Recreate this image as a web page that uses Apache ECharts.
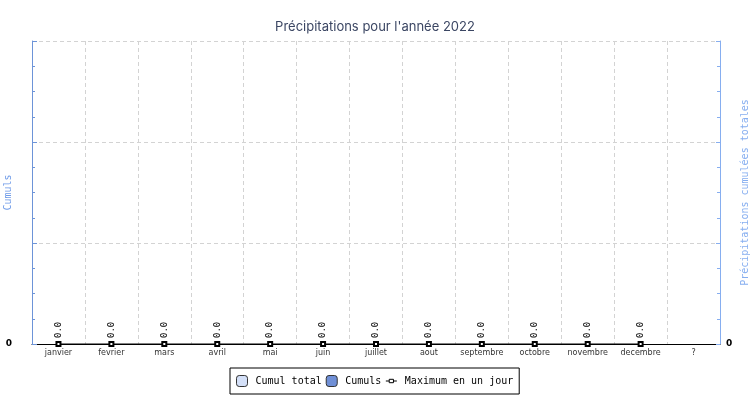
<!DOCTYPE html>
<html>
<head>
<meta charset="utf-8">
<script src="https://cdn.jsdelivr.net/npm/echarts@6/dist/echarts.min.js"></script>
<style>
  body { margin: 0; background: #ffffff; }
  #chart { width: 750px; height: 400px; }
</style>
</head>
<body>
<div id="chart"></div>
<script>
var mois = ["janvier", "fevrier", "mars", "avril", "mai", "juin", "juillet", "aout", "septembre", "octobre", "novembre", "decembre", "?"];
var cumulTotal = [0, 0, 0, 0, 0, 0, 0, 0, 0, 0, 0, 0, "-"];
var cumuls = [0, 0, 0, 0, 0, 0, 0, 0, 0, 0, 0, 0, "-"];
var maxJour = [0, 0, 0, 0, 0, 0, 0, 0, 0, 0, 0, 0, "-"];

var mono = "DejaVu Sans Mono";
var chart = echarts.init(document.getElementById("chart"));
chart.setOption({
  animation: false,
  title: {
    text: "Précipitations pour l'année 2022",
    left: "center",
    top: 16,
    textStyle: { fontFamily: "Inter", fontSize: 13, fontWeight: "normal", color: "#3b4663" }
  },
  legend: {
    data: [
      { name: "Cumul total", itemStyle: { borderColor: "#333", borderWidth: 1 } },
      { name: "Cumuls", itemStyle: { borderColor: "#333", borderWidth: 1 } },
      {
        name: "Maximum en un jour",
        icon: "path://M0,5 L4,5 M9,5 L13,5 M4,3 L9,3 L9,7 L4,7 Z",
        itemStyle: { color: "#fff", borderColor: "#000", borderWidth: 1 }
      }
    ],
    left: 230,
    top: 368,
    padding: [7, 6, 7, 6],
    itemGap: 4,
    itemWidth: 11,
    itemHeight: 11,
    borderColor: "#000",
    borderWidth: 1,
    backgroundColor: "#fff",
    textStyle: { fontFamily: mono, fontSize: 10, color: "#000", padding: [0, 0, 0, 3] }
  },
  grid: { left: 32, right: 30, top: 41, bottom: 56, outerBoundsMode: "none", containLabel: false },
  xAxis: {
    type: "category",
    data: mois,
    axisLine: { lineStyle: { color: "#000", width: 1 } },
    axisTick: { inside: true, length: 4, lineStyle: { color: "#000" } },
    axisLabel: { interval: 0, fontFamily: "DejaVu Sans", fontSize: 8, color: "#333", margin: 5 },
    splitLine: { show: true, lineStyle: { color: "#d3d3d3", type: [4, 3] } }
  },
  yAxis: [
    {
      type: "value",
      min: 0, max: 30, interval: 10,
      name: "Cumuls",
      nameLocation: "middle",
      nameGap: 19,
      nameMoveOverlap: false,
      nameTextStyle: { fontFamily: mono, fontSize: 10, color: "#6f9be8" },
      axisLine: { show: true, lineStyle: { color: "#6d94d8", width: 1 } },
      axisTick: { show: true, inside: true, length: 5, lineStyle: { color: "#6d94d8" } },
      minorTick: { show: true, splitNumber: 4, length: 3, lineStyle: { color: "#6d94d8" } },
      axisLabel: {
        fontFamily: "DejaVu Sans", fontSize: 9, fontWeight: "bold", color: "#000", margin: 20,
        formatter: function (v) { return v === 0 ? "0" : ""; }
      },
      splitLine: { show: true, lineStyle: { color: "#d3d3d3", type: [4, 3] } }
    },
    {
      type: "value",
      min: 0, max: 30, interval: 10,
      name: "Précipitations cumulées totales",
      nameLocation: "middle",
      nameGap: 20,
      nameMoveOverlap: false,
      nameTextStyle: { fontFamily: mono, fontSize: 10, color: "#86aef0" },
      axisLine: { show: true, lineStyle: { color: "#86aef0", width: 1 } },
      axisTick: { show: true, inside: true, length: 4, lineStyle: { color: "#86aef0" } },
      minorTick: { show: true, splitNumber: 4, length: 3, lineStyle: { color: "#86aef0" } },
      axisLabel: {
        fontFamily: "DejaVu Sans", fontSize: 9, fontWeight: "bold", color: "#000", margin: 6,
        formatter: function (v) { return v === 0 ? "0" : ""; }
      },
      splitLine: { show: false }
    }
  ],
  series: [
    {
      name: "Cumul total",
      type: "bar",
      yAxisIndex: 1,
      data: cumulTotal,
      barGap: "-100%",
      barWidth: "60%",
      itemStyle: { color: "#d4e0f8", borderWidth: 0 }
    },
    {
      name: "Cumuls",
      type: "bar",
      data: cumuls,
      barWidth: "60%",
      itemStyle: { color: "#6f8fd6", borderWidth: 0 }
    },
    {
      name: "Maximum en un jour",
      type: "line",
      data: maxJour,
      symbol: "emptyRect",
      symbolSize: 4,
      showAllSymbol: true,
      lineStyle: { color: "#000", width: 1 },
      itemStyle: { color: "#000", borderColor: "#000", borderWidth: 1 },
      label: {
        show: true,
        position: "top",
        rotate: 90,
        align: "left",
        verticalAlign: "middle",
        distance: 3,
        fontFamily: mono,
        fontSize: 9,
        color: "#000",
        formatter: function (p) { return Number(p.value).toFixed(1); }
      },
      z: 5
    }
  ]
});
</script>
</body>
</html>
